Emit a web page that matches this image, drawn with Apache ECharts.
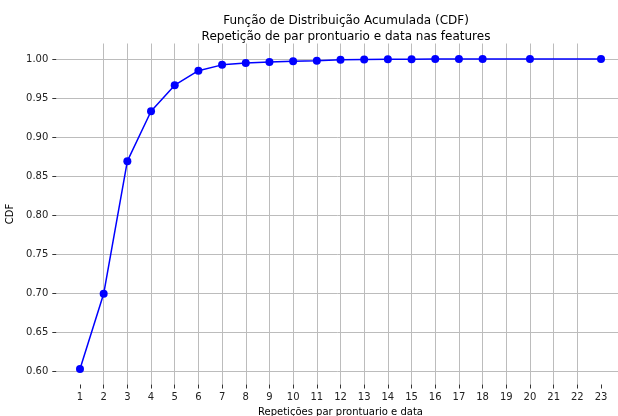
<!DOCTYPE html>
<html><head><meta charset="utf-8">
<script src="https://cdn.jsdelivr.net/npm/echarts@6/dist/echarts.min.js"></script>
<style>html,body{margin:0;padding:0;background:#fff}#c{width:618px;height:416px}</style>
</head><body><div id="c"></div>
<script>
const titleLines = ['Função de Distribuição Acumulada (CDF)', 'Repetição de par prontuario e data nas features'];
const xTitle = 'Repetições par prontuario e data';
const yTitle = 'CDF';
const xValues = [1,2,3,4,5,6,7,8,9,10,11,12,13,14,15,16,17,18,20,23];
const cdfValues = [0.6026,0.6990,0.8690,0.9330,0.9665,0.9850,0.9925,0.9950,0.9962,0.9970,0.9978,0.9992,0.9995,0.9997,0.9998,0.9999,0.99995,0.99997,0.99999,1.0];
const xTicks = [1,2,3,4,5,6,7,8,9,10,11,12,13,14,15,16,17,18,19,20,21,22,23];
const yTicks = [0.60,0.65,0.70,0.75,0.80,0.85,0.90,0.95,1.00];

const chart = echarts.init(document.getElementById('c'), null, {renderer:'canvas'});
const font = 'DejaVu Sans';
chart.setOption({
  animation:false,
  backgroundColor:'#fff',
  title:{
    text: titleLines.join('\n'),
    left: 341, top: 8, textAlign:'center',
    textStyle:{fontFamily:font, fontSize:12, fontWeight:'normal', color:'#000', lineHeight:16}
  },
  grid:{left:56.3, right:-6.7, top:43.5, height:341, containLabel:false, outerBoundsMode:'none'},
  xAxis:{
    type:'value', min:0, max:24,
    name: xTitle, nameLocation:'middle', nameGap:21,
    nameTextStyle:{fontFamily:font, fontSize:10, color:'#000', padding:[0,0,0,0]},
    axisLine:{show:false},
    axisTick:{show:true, length:4, customValues:xTicks, lineStyle:{color:'#333'}},
    axisLabel:{customValues:xTicks, fontFamily:font, fontSize:10, color:'#222', margin:8},
    splitLine:{show:true, showMinLine:false, showMaxLine:false, lineStyle:{color:'#bcbcbc', width:1}}
  },
  yAxis:{
    type:'value', min:0.5827, max:1.0199,
    name: yTitle, nameLocation:'middle', nameGap:37, nameRotate:90,
    nameTextStyle:{fontFamily:font, fontSize:10, color:'#000'},
    axisLine:{show:false},
    axisTick:{show:true, length:4, customValues:yTicks, lineStyle:{color:'#333'}},
    axisLabel:{customValues:yTicks, fontFamily:font, fontSize:10, color:'#222', margin:8,
      formatter:v=>v.toFixed(2)},
    splitLine:{show:true, lineStyle:{color:'#bcbcbc', width:1}}
  },
  series:[{
    type:'line',
    data: xValues.map((x,i)=>[x, cdfValues[i]]),
    lineStyle:{color:'#0000ff', width:1.5},
    itemStyle:{color:'#0000ff'},
    symbol:'circle', symbolSize:8,
    clip:false
  }]
});
</script></body></html>
